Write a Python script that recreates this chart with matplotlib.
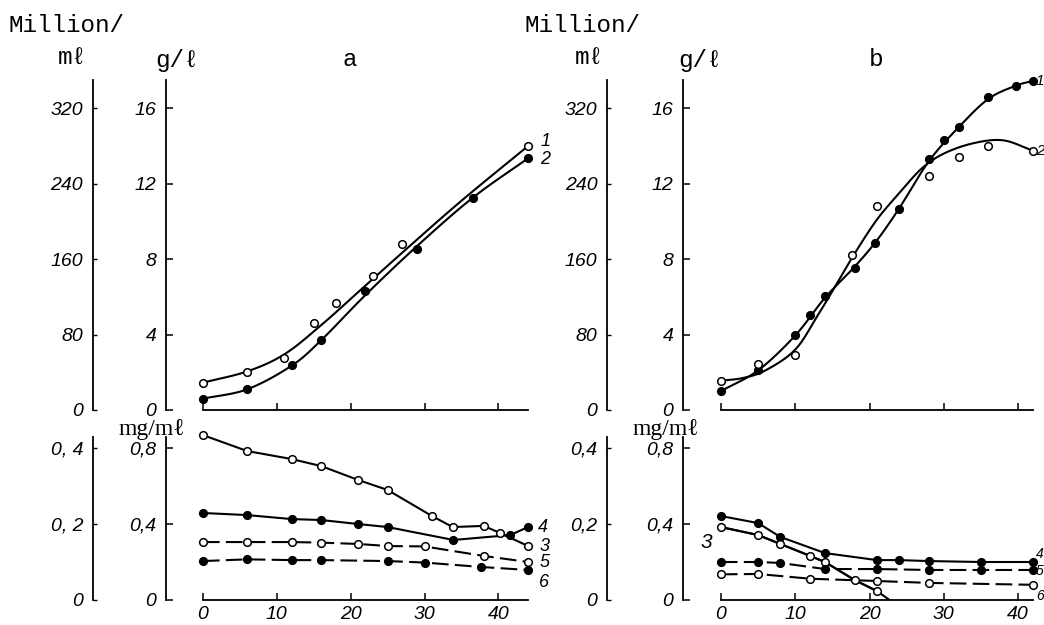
import numpy as np
import matplotlib
matplotlib.use('Agg')
import matplotlib.pyplot as plt

# ---- data (x = time, h) ----
# panel a, top: biomass g/l
a1_x = [0, 6, 11, 15, 18, 23, 27, 44]
a1_y = [1.45, 2.0, 2.75, 4.6, 5.7, 7.1, 8.8, 14.0]
a1_fit_x = [0, 6, 11, 16, 22, 28, 35, 44]
a1_fit_y = [1.45, 2.05, 2.95, 4.5, 6.6, 8.7, 11.1, 14.0]
a2_x = [0, 6, 12, 16, 22, 29, 36.5, 44]
a2_y = [0.6, 1.1, 2.4, 3.7, 6.3, 8.55, 11.25, 13.35]
a2_fit_x = [0, 6, 12, 16, 22, 29, 36.5, 44]
a2_fit_y = [0.6, 1.1, 2.35, 3.7, 6.1, 8.7, 11.25, 13.35]

# panel a, bottom: mg/ml
a3_x = [0, 6, 12, 16, 21, 25, 31, 33.8, 38, 40.2, 44]
a3_v = [0.868, 0.784, 0.742, 0.705, 0.632, 0.579, 0.442, 0.384, 0.39, 0.353, 0.284]
a4_x = [0, 6, 12, 16, 21, 25, 33.9, 41.6, 44]
a4_v = [0.458, 0.447, 0.426, 0.421, 0.4, 0.384, 0.316, 0.342, 0.384]
a5_x = [0, 6, 12, 16, 21, 25, 30, 38, 44]
a5_v = [0.305, 0.305, 0.305, 0.302, 0.295, 0.284, 0.282, 0.232, 0.2]
a6_x = [0, 6, 12, 16, 25, 30, 37.6, 44]
a6_v = [0.205, 0.214, 0.21, 0.21, 0.205, 0.197, 0.174, 0.158]

# panel b, top
b1_x = [0, 5, 10, 12, 14, 18, 20.7, 24, 28, 30, 32, 36, 39.7, 42]
b1_y = [1.0, 2.1, 4.0, 5.05, 6.05, 7.55, 8.85, 10.65, 13.3, 14.3, 15.0, 16.6, 17.2, 17.45]
b1_fit_x = [0, 5, 10, 14, 18, 21, 24, 28, 32, 36, 39.7, 42]
b1_fit_y = [1.0, 2.1, 3.95, 5.95, 7.6, 9.0, 10.7, 13.2, 15.0, 16.5, 17.2, 17.45]
b2_x = [0, 5, 10, 17.7, 21, 28, 32, 36, 42]
b2_y = [1.55, 2.45, 2.9, 8.2, 10.8, 12.4, 13.4, 14.0, 13.75]
b2_fit_x = [0, 3, 6, 10, 13, 15.6, 18, 21, 24, 27, 30, 34, 38, 42]
b2_fit_y = [1.55, 1.7, 2.1, 3.2, 5.0, 6.7, 8.3, 10.1, 11.5, 12.8, 13.6, 14.15, 14.3, 13.75]

# panel b, bottom
b3_x = [0, 5, 8, 12, 14, 18, 21]
b3_v = [0.384, 0.342, 0.295, 0.232, 0.2, 0.105, 0.047]
b3_zero_x = 22.7
b4_x = [0, 5, 8, 14, 21, 24, 28, 35, 42]
b4_v = [0.442, 0.405, 0.332, 0.247, 0.21, 0.21, 0.205, 0.2, 0.2]
b5_x = [0, 5, 8, 14, 21, 28, 35, 42]
b5_v = [0.2, 0.2, 0.195, 0.163, 0.163, 0.158, 0.158, 0.158]
b6_x = [0, 5, 12, 21, 28, 42]
b6_v = [0.135, 0.137, 0.112, 0.1, 0.09, 0.08]

x_ticks = [0, 10, 20, 30, 40]
g_ticks = [0, 4, 8, 12, 16]
cell_ticks = [0, 80, 160, 240, 320]
mg_ticks = [0, 0.4, 0.8]
mg_labels = ['0', '0,4', '0,8']
ml_ticks = [0, 0.2, 0.4]
ml_labels_a = ['0', '0, 2', '0, 4']
ml_labels_b = ['0', '0,2', '0,4']

W, H = 1044, 625
fig = plt.figure(figsize=(W / 100, H / 100), dpi=100)
fig.patch.set_facecolor('white')

MONO = ['Liberation Mono', 'DejaVu Sans Mono']
SERIF = ['Liberation Serif', 'DejaVu Serif']
TICKFAM = 'Liberation Sans'
TICKSIZE = 14


def box(l, t, r, b):
    return [l / W, 1 - b / H, (r - l) / W, (b - t) / H]


def smooth(xs, ys, n=16):
    # Catmull-Rom curve through the given knots
    p = np.column_stack([xs, ys]).astype(float)
    p = np.vstack([2 * p[0] - p[1], p, 2 * p[-1] - p[-2]])
    out = []
    t = np.linspace(0, 1, n, endpoint=False)[:, None]
    for i in range(1, len(p) - 2):
        p0, p1, p2, p3 = p[i - 1], p[i], p[i + 1], p[i + 2]
        seg = 0.5 * ((2 * p1) + (-p0 + p2) * t + (2 * p0 - 5 * p1 + 4 * p2 - p3) * t ** 2
                     + (-p0 + 3 * p1 - 3 * p2 + p3) * t ** 3)
        out.append(seg)
    out.append(p[-2][None, :])
    out = np.vstack(out)
    return out[:, 0], out[:, 1]


def style_ticks(labels):
    for lab in labels:
        lab.set_fontfamily(TICKFAM)
        lab.set_fontstyle('italic')
        lab.set_fontsize(TICKSIZE)


def make_panel(rect, xlim, xend, ylim, yticks, ylabels, off, scale, t2, l2, show_x):
    ax = fig.add_axes(rect)
    ax.patch.set_alpha(0)
    ax.set_xlim(xlim)
    ax.set_ylim(ylim)
    ax.spines['top'].set_visible(False)
    ax.spines['right'].set_visible(False)
    ax.spines['bottom'].set_bounds(0, xend)
    for s in ax.spines.values():
        s.set_linewidth(1.3)
    ax.set_xticks(x_ticks)
    ax.set_yticks(yticks, ylabels)
    ax.tick_params(direction='in', length=5, width=1.1, pad=7, labelbottom=show_x)
    ax.tick_params(axis='x', pad=4)
    style_ticks(ax.get_yticklabels() + ax.get_xticklabels())

    ax2 = ax.twinx()
    ax2.set_ylim(ylim[0] * scale, ylim[1] * scale)
    for s in ['top', 'right', 'bottom']:
        ax2.spines[s].set_visible(False)
    ax2.spines['left'].set_visible(True)
    ax2.spines['left'].set_linewidth(1.3)
    ax2.spines['left'].set_position(('outward', off))
    ax2.yaxis.set_ticks_position('left')
    ax2.set_yticks(t2, l2)
    ax2.tick_params(direction='in', length=3, width=1.0, pad=7)
    style_ticks(ax2.get_yticklabels())
    return ax


def draw(ax, x, y, filled, dashed=False, fit=None):
    ls = (0, (8, 3)) if dashed else '-'
    lx, ly = fit if fit is not None else (x, y)
    ax.plot(lx, ly, color='black', lw=1.5, ls=ls, clip_on=False, zorder=2)
    ax.plot(x, y, ls='none', marker='o', ms=5.5, mew=1.1, mec='black',
            mfc='black' if filled else 'white', clip_on=False, zorder=3)


def tag(ax, x, y, s, dx=9, dy=0, size=13):
    ax.annotate(s, (x, y), xytext=(dx, dy), textcoords='offset points',
                ha='left', va='center', fontfamily=TICKFAM,
                style='italic', fontsize=size, annotation_clip=False)


# ---- panel a ----
ax_at = make_panel(box(166, 80, 531, 410), (-5, 44.4), 44, (0, 17.5), g_ticks,
                   [str(v) for v in g_ticks], 52.6, 20, cell_ticks,
                   [str(v) for v in cell_ticks], False)
draw(ax_at, a1_x, a1_y, False, fit=smooth(a1_fit_x, a1_fit_y))
draw(ax_at, a2_x, a2_y, True, fit=smooth(a2_fit_x, a2_fit_y))
tag(ax_at, a1_x[-1], a1_y[-1], '1', dy=3)
tag(ax_at, a2_x[-1], a2_y[-1], '2', dy=-1)

ax_ab = make_panel(box(166, 437, 531, 600), (-5, 44.4), 44, (0, 0.858), mg_ticks,
                   mg_labels, 52.6, 0.5, ml_ticks, ml_labels_a, True)
draw(ax_ab, a3_x, a3_v, False)
draw(ax_ab, a4_x, a4_v, True)
draw(ax_ab, a5_x, a5_v, False, dashed=True)
draw(ax_ab, a6_x, a6_v, True, dashed=True)
tag(ax_ab, a4_x[-1], a4_v[-1], '4', dx=7)
tag(ax_ab, a3_x[-1], a3_v[-1], '3', dx=8)
tag(ax_ab, a5_x[-1], a5_v[-1], '5', dx=8)
tag(ax_ab, a6_x[-1], a6_v[-1], '6', dx=8, dy=-9)

# ---- panel b ----
ax_bt = make_panel(box(683, 80, 1036, 410), (-5.1, 42.4), 42, (0, 17.5), g_ticks,
                   [str(v) for v in g_ticks], 54.7, 20, cell_ticks,
                   [str(v) for v in cell_ticks], False)
draw(ax_bt, b1_x, b1_y, True, fit=smooth(b1_fit_x, b1_fit_y))
draw(ax_bt, b2_x, b2_y, False, fit=smooth(b2_fit_x, b2_fit_y))
tag(ax_bt, b1_x[-1], b1_y[-1], '1', dx=2, size=11)
tag(ax_bt, b2_x[-1], b2_y[-1], '2', dx=2, size=11)

ax_bb = make_panel(box(683, 437, 1036, 600), (-5.1, 42.4), 42, (0, 0.858), mg_ticks,
                   mg_labels, 54.7, 0.5, ml_ticks, ml_labels_b, True)
draw(ax_bb, b4_x, b4_v, True)
ax_bb.plot(b3_x + [b3_zero_x], b3_v + [0], color='black', lw=1.5, zorder=2)
draw(ax_bb, b3_x, b3_v, False)
draw(ax_bb, b5_x, b5_v, True, dashed=True)
draw(ax_bb, b6_x, b6_v, False, dashed=True)
tag(ax_bb, b4_x[-1], b4_v[-1], '4', dx=2, dy=6, size=10)
tag(ax_bb, b5_x[-1], b5_v[-1], '5', dx=2, dy=-1, size=10)
tag(ax_bb, b6_x[-1], b6_v[-1], '6', dx=2, dy=-8, size=10)
ax_bb.annotate('3', (b3_x[0], b3_v[0]), xytext=(-6, -11), textcoords='offset points',
               ha='right', va='center', fontfamily=TICKFAM, style='italic',
               fontsize=15, annotation_clip=False)


# ---- header texts ----
def ftext(x, y, s, fam, size, ha='left'):
    fig.text(x / W, 1 - y / H, s, family=fam, fontsize=size, ha=ha, va='center')


for x0, letter in [(0, 'a'), (517, 'b')]:
    ftext(x0 + 8, 25, 'Million/', MONO, 17.5)
    ftext(x0 + 72, 58, 'm\u2113', MONO, 17.5, ha='center')
    ftext(x0 + 177 if letter == 'a' else 700, 60, 'g/\u2113', MONO, 17.5, ha='center')
    ftext(350 if letter == 'a' else 876, 60, letter, MONO, 17.5, ha='center')
ftext(152, 430, 'mg/m\u2113', SERIF, 17, ha='center')
ftext(666, 430, 'mg/m\u2113', SERIF, 17, ha='center')

fig.savefig('out.png', dpi=100, facecolor='white')
